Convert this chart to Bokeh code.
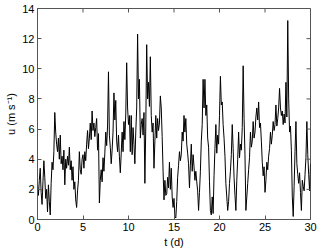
from bokeh.plotting import figure
from bokeh.models import Range1d, FixedTicker
from bokeh.embed import file_html
from bokeh.resources import INLINE
import numpy as np

# Wind speed samples every 0.1 day (t = 0 .. 30 d)
u_speed = [
    2.3, 1.6, 2.6, 3.4, 1.8, 1.0, 2.5, 3.9, 2.8, 1.4,
    2.0, 0.5, 2.3, 1.2, 0.3, 2.4, 3.8, 3.3, 4.5, 7.1,
    5.8, 5.0, 4.5, 5.4, 4.0, 5.6, 3.7, 4.2, 3.3, 4.6,
    2.3, 4.0, 3.4, 4.2, 3.6, 4.8, 3.3, 3.9, 2.6, 3.5,
    2.0, 2.5, 1.3, 0.8, 1.9, 2.6, 4.5, 3.3, 3.0, 4.0,
    4.3, 3.4, 4.5, 3.9, 5.0, 5.9, 4.7, 5.4, 6.4, 5.3,
    7.2, 5.9, 6.4, 5.5, 6.1, 6.7, 4.6, 5.7, 1.1, 2.6,
    3.3, 2.5, 4.1, 3.2, 4.4, 5.8, 4.9, 6.2, 9.8, 5.6,
    4.8, 3.7, 4.6, 5.8, 8.4, 6.6, 7.9, 5.2, 4.5, 5.6,
    4.2, 3.1, 4.4, 5.8, 4.5, 6.5, 5.3, 7.0, 10.4, 7.4,
    6.3, 6.9, 4.5, 6.9, 4.3, 6.1, 5.0, 3.7, 5.8, 7.4,
    12.3, 8.0, 9.3, 5.4, 6.3, 6.7, 5.6, 7.1, 2.4, 6.2,
    11.6, 8.0, 9.1, 7.5, 10.8, 6.9, 5.8, 6.4, 3.4, 5.2,
    6.9, 5.4, 6.7, 5.9, 6.4, 8.2, 7.4, 5.5, 3.2, 1.3,
    2.6, 1.6, 1.7, 2.8, 2.1, 3.8, 2.0, 3.4, 1.5, 0.8,
    1.4, 0.2, 0.1, 1.2, 2.8, 3.6, 4.5, 3.9, 4.3, 5.8,
    5.2, 6.9, 5.8, 6.7, 5.0, 4.4, 3.7, 2.1, 3.6, 5.0,
    3.2, 4.3, 3.5, 2.6, 3.2, 2.5, 1.9, 0.6, 1.8, 3.2,
    5.2, 6.3, 9.3, 7.4, 9.3, 6.9, 7.6, 5.4, 4.8, 2.5,
    0.6, 0.3, 1.5, 0.4, 2.9, 4.7, 6.3, 4.4, 5.6, 5.0,
    6.9, 9.5, 7.6, 7.8, 6.3, 5.4, 4.2, 2.4, 1.5, 0.6,
    1.2, 2.4, 3.2, 4.3, 6.3, 4.7, 2.8, 1.6, 0.6, 2.6,
    4.0, 5.8, 4.1, 5.0, 4.6, 6.1, 10.2, 6.7, 4.3, 0.6,
    1.5, 2.4, 3.3, 4.1, 5.8, 4.8, 5.2, 6.5, 5.4, 5.8,
    6.8, 7.4, 6.6, 7.8, 6.1, 6.4, 5.2, 3.8, 2.9, 3.5,
    1.8, 2.6, 3.8, 3.3, 4.2, 4.7, 5.8, 5.0, 5.6, 6.5,
    5.9, 6.3, 7.6, 6.2, 6.7, 7.4, 8.7, 7.4, 6.9, 7.2,
    6.3, 7.0, 6.4, 9.1, 6.8, 13.2, 8.0, 5.8, 6.2, 4.6,
    1.5, 0.2, 2.2, 4.5, 6.5, 3.7, 3.0, 2.4, 3.1, 1.8,
    0.6, 2.6, 2.2, 1.9, 3.0, 4.1, 6.5, 4.3, 3.0, 1.9,
    3.7,
]
t_days = np.arange(len(u_speed)) * 0.1

x_ticks = [0, 5, 10, 15, 20, 25, 30]
y_ticks = [0, 2, 4, 6, 8, 10, 12, 14]
x_lim = (0, 30)
y_lim = (0, 14)

FONT = "Liberation Sans"
AX = "#555555"

p = figure(width=318, height=250, output_backend="svg", toolbar_location=None,
           x_range=Range1d(*x_lim), y_range=Range1d(*y_lim),
           min_border_left=37, min_border_right=8, min_border_top=8, min_border_bottom=28)
p.background_fill_color = "white"
p.border_fill_color = "white"
p.outline_line_color = AX
p.grid.visible = False

p.line(t_days, u_speed, line_color="black", line_width=1)

# inward ticks on the top and right frame edges (MATLAB "box on" style)
p.ray(x=x_ticks, y=[y_lim[1]] * len(x_ticks), length=4, length_units="screen",
      angle=-np.pi / 2, line_color=AX, line_width=1)
p.ray(x=[x_lim[1]] * len(y_ticks), y=y_ticks, length=4, length_units="screen",
      angle=np.pi, line_color=AX, line_width=1)

p.xaxis.axis_label = "t (d)"
p.yaxis.axis_label = "u (m s\u207b\u00b9)"

def style(ax, ticks):
    ax.ticker = FixedTicker(ticks=ticks)
    ax.axis_line_color = AX
    ax.major_tick_line_color = AX
    ax.major_tick_in = 4
    ax.major_tick_out = 0
    ax.minor_tick_line_color = None
    ax.major_label_text_font = FONT
    ax.major_label_text_font_size = "11px"
    ax.major_label_text_color = "black"
    ax.major_label_standoff = 3
    ax.axis_label_text_font = FONT
    ax.axis_label_text_font_size = "11px"
    ax.axis_label_text_font_style = "normal"
    ax.axis_label_text_color = "black"
    ax.axis_label_standoff = 2

style(p.xaxis[0], x_ticks)
style(p.yaxis[0], y_ticks)

open("out.html", "w").write(file_html(p, INLINE))
